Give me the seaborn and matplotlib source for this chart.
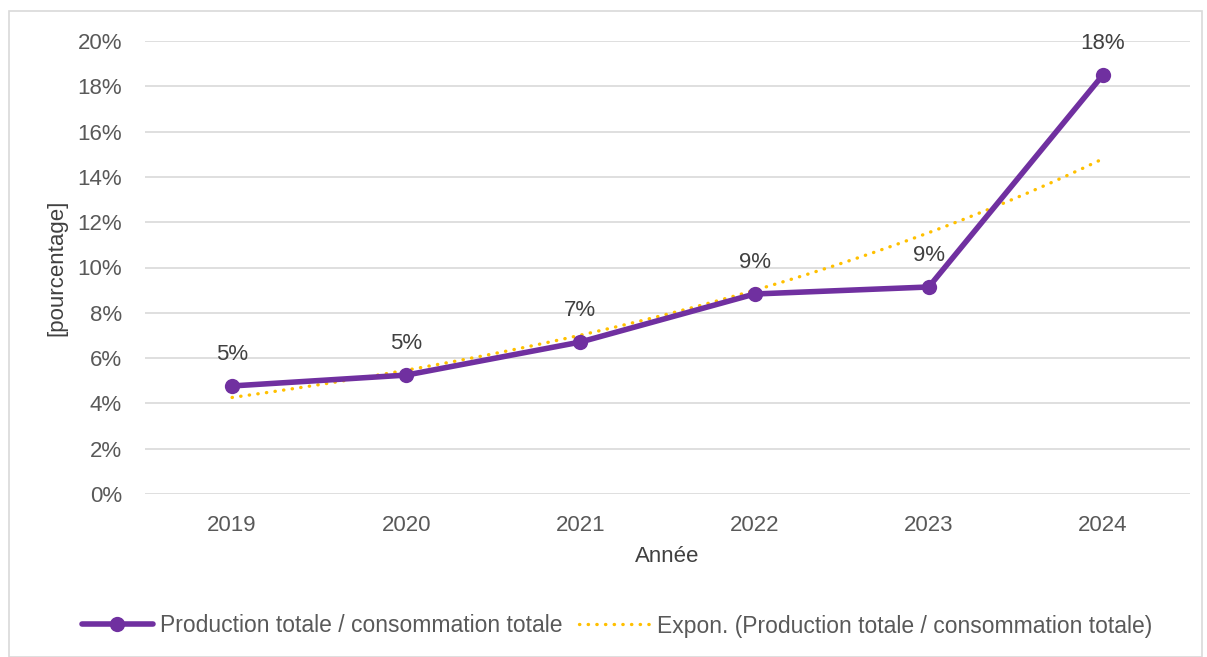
import numpy as np
import pandas as pd
import matplotlib
matplotlib.use("Agg")
import matplotlib.pyplot as plt
from matplotlib.patches import Rectangle
from matplotlib.lines import Line2D
import seaborn as sns

# Share of total production in total consumption, per year (percent)
years = ["2019", "2020", "2021", "2022", "2023", "2024"]
ratio_pct = [4.77, 5.25, 6.71, 8.83, 9.14, 18.5]
value_labels = ["5%", "5%", "7%", "9%", "9%", "18%"]
y_ticks = [0, 2, 4, 6, 8, 10, 12, 14, 16, 18, 20]

series_name = "Production totale / consommation totale"
trend_name = "Expon. (Production totale / consommation totale)"

sns.set_theme(style="white")
plt.rcParams["font.family"] = ["Liberation Sans", "DejaVu Sans"]

df = pd.DataFrame({"year": years, "pos": np.arange(len(years)), "ratio": ratio_pct})

# Exponential trend fitted on the log of the values
coef = np.polyfit(df["pos"], np.log(df["ratio"]), 1)
trend_df = pd.DataFrame({"pos": np.linspace(0, len(years) - 1, 200)})
trend_df["trend"] = np.exp(np.polyval(coef, trend_df["pos"]))

W, H = 1207, 657
fig = plt.figure(figsize=(W / 100, H / 100), dpi=100)
ax = fig.add_axes([145 / W, 1 - 494 / H, (1190 - 145) / W, (494 - 41) / H])

purple = "#7030A0"
gold = "#FFC000"
tick_col = "#595959"
label_col = "#404040"
dotted = (0, (0.1, 2.5))

for t in y_ticks:
    ax.axhline(t, color="#D9D9D9", lw=1.2, zorder=0)

sns.lineplot(data=trend_df, x="pos", y="trend", ax=ax, color=gold, lw=2.4,
             linestyle=dotted, dash_capstyle="round", zorder=2)
sns.lineplot(data=df, x="pos", y="ratio", ax=ax, color=purple, lw=4,
             marker="o", markersize=11, markeredgewidth=0, zorder=3)

for x, v, lab in zip(df["pos"], ratio_pct, value_labels):
    ax.annotate(lab, (x, v), xytext=(0, 22.5), textcoords="offset points",
                ha="center", va="center", fontsize=16, color=label_col)

ax.set_xlim(-0.5, len(years) - 0.5)
ax.set_ylim(0, 20)
ax.set_xticks(df["pos"])
ax.set_xticklabels(years)
ax.set_yticks(y_ticks)
ax.set_yticklabels([f"{t}%" for t in y_ticks])
ax.tick_params(axis="both", length=0, labelsize=16, labelcolor=tick_col)
ax.tick_params(axis="x", pad=15)
ax.tick_params(axis="y", pad=16.5)
for s in ax.spines.values():
    s.set_visible(False)

ax.set_xlabel("Année", fontsize=16, color=label_col)
ax.set_ylabel("[pourcentage]", fontsize=16, color=label_col)
ax.xaxis.set_label_coords(0.5, (494 - 556) / (494 - 41))
ax.xaxis.label.set_va("center")
ax.yaxis.set_label_coords((57 - 145) / (1190 - 145), 0.5)
ax.yaxis.label.set_va("center")

handles = [
    Line2D([], [], color=purple, lw=4, marker="o", markersize=11, markeredgewidth=0),
    Line2D([], [], color=gold, lw=2.4, linestyle=dotted, dash_capstyle="round"),
]
fig.legend(handles, [series_name, trend_name], loc="center",
           bbox_to_anchor=(617 / W, 1 - 626 / H),
           ncol=2, frameon=False, fontsize=16.5, labelcolor=tick_col, handlelength=3.1,
           handletextpad=0.3, columnspacing=0.75)

fig.patches.append(Rectangle((9 / W, 0), (W - 14) / W, 1 - 11 / H, transform=fig.transFigure,
                             fill=False, edgecolor="#D9D9D9", lw=1.2))

fig.savefig("out.png", dpi=100)
